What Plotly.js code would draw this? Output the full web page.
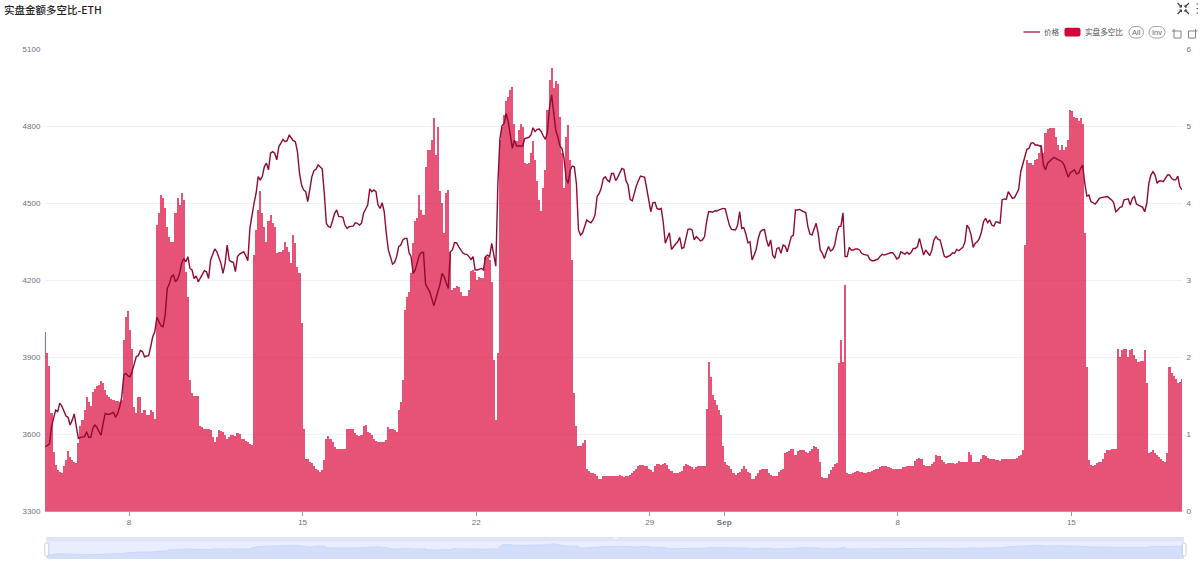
<!DOCTYPE html>
<html><head><meta charset="utf-8">
<script src="https://cdn.plot.ly/plotly-3.0.1.min.js"></script>
<style>html,body{margin:0;padding:0;background:#fff;overflow:hidden}#c{width:1200px;height:567px}</style>
</head><body><div id="c"></div>
<script>
const chartTitle = "实盘金额多空比-ETH";
const priceName = "价格";
const ratioName = "实盘多空比";
const startTime = "2025-08-04T15:00:00Z";
const stepHours = 2;
const rowLength = 92;
const tickVals = ["2025-08-08","2025-08-15","2025-08-22","2025-08-29","2025-09-01","2025-09-08","2025-09-15"];
const tickText = ["8","15","22","29","<b>Sep</b>","8","15"];
const priceTicks = [3300,3600,3900,4200,4500,4800,5100];
const ratioTicks = [0,1,2,3,4,5,6];
const priceRows = [
[3551,3557,3561,3629,3664,3693,3687,3720,3709,3687,3670,3665,3635,3654,3678,3629,3583,3587,3588,3590,3609,3587,3587,3622,3635,3626,3609,3596,3642,3680,3677,3677,3680,3684,3665,3680,3706,3745,3830,3836,3826,3823,3843,3875,3901,3905,3925,3921,3901,3904,3905,3940,3979,3999,4055,4038,4022,4018,4064,4167,4184,4213,4220,4193,4203,4226,4265,4284,4271,4291,4245,4239,4206,4216,4193,4207,4223,4236,4232,4206,4278,4304,4321,4310,4284,4265,4226,4265,4336,4278,4271,4269],
[4233,4291,4301,4307,4310,4295,4275,4401,4460,4499,4538,4603,4590,4603,4642,4655,4629,4694,4700,4694,4668,4720,4733,4748,4739,4743,4765,4752,4743,4739,4700,4616,4570,4551,4544,4505,4551,4603,4626,4631,4648,4642,4633,4538,4421,4408,4405,4431,4460,4473,4447,4447,4444,4414,4401,4408,4408,4410,4423,4421,4414,4421,4460,4479,4492,4555,4544,4551,4544,4492,4479,4501,4466,4382,4317,4291,4262,4268,4291,4330,4336,4356,4362,4362,4307,4291,4226,4239,4271,4297,4307,4307],
[4184,4167,4154,4128,4099,4128,4154,4184,4226,4213,4189,4167,4310,4317,4345,4345,4330,4317,4306,4301,4300,4291,4280,4291,4239,4239,4241,4245,4239,4291,4297,4291,4343,4297,4254,4576,4752,4801,4810,4849,4817,4765,4713,4745,4722,4722,4722,4722,4751,4754,4756,4765,4793,4778,4787,4788,4778,4761,4748,4778,4875,4921,4862,4784,4758,4722,4713,4674,4596,4576,4628,4644,4641,4576,4395,4375,4384,4414,4434,4427,4423,4434,4453,4525,4537,4557,4596,4602,4589,4583,4615,4615],
[4587,4600,4616,4635,4631,4587,4570,4514,4508,4540,4566,4587,4605,4603,4600,4557,4505,4466,4501,4503,4479,4475,4479,4427,4343,4365,4384,4319,4332,4340,4349,4366,4323,4327,4362,4397,4399,4395,4356,4369,4362,4352,4356,4369,4427,4466,4466,4464,4470,4469,4473,4477,4479,4477,4449,4414,4397,4395,4395,4414,4466,4401,4404,4379,4345,4349,4278,4297,4319,4362,4388,4395,4397,4356,4330,4356,4297,4284,4323,4326,4304,4336,4332,4310,4336,4369,4375,4473,4473,4475,4470,4466],
[4462,4408,4379,4375,4401,4421,4382,4317,4304,4284,4310,4330,4313,4319,4336,4382,4408,4410,4462,4291,4291,4327,4317,4317,4321,4321,4317,4304,4300,4297,4296,4280,4275,4275,4280,4282,4293,4300,4297,4301,4304,4306,4306,4297,4282,4287,4310,4304,4301,4308,4300,4308,4323,4323,4330,4362,4330,4297,4317,4304,4295,4317,4356,4369,4358,4356,4319,4293,4288,4291,4297,4306,4304,4319,4314,4321,4327,4349,4414,4401,4375,4327,4343,4349,4362,4388,4427,4440,4423,4434,4414,4410],
[4427,4425,4421,4512,4516,4514,4544,4531,4518,4521,4538,4553,4622,4655,4687,4709,4713,4733,4735,4726,4726,4723,4720,4648,4629,4655,4661,4670,4678,4674,4668,4666,4661,4648,4622,4600,4618,4625,4629,4613,4616,4635,4648,4577,4527,4531,4505,4501,4496,4505,4518,4521,4522,4522,4525,4518,4512,4501,4466,4473,4483,4486,4512,4514,4516,4492,4518,4525,4496,4492,4488,4483,4466,4499,4577,4609,4622,4609,4577,4586,4586,4583,4596,4609,4609,4596,4590,4590,4605,4564,4551]];
const ratioRows = [
[2.32,2.05,1.88,1.27,0.77,0.60,0.53,0.51,0.50,0.58,0.66,0.78,0.70,0.66,0.63,0.62,0.88,1.10,1.18,1.31,1.48,1.41,1.36,1.55,1.59,1.62,1.64,1.69,1.66,1.57,1.51,1.48,1.46,1.44,1.43,1.43,1.42,1.44,2.22,2.52,2.60,2.35,2.11,1.35,1.27,1.48,1.48,1.27,1.31,1.25,1.25,1.31,1.29,1.20,3.71,3.87,4.10,4.06,3.93,3.69,3.56,3.50,3.50,3.87,4.06,3.97,4.13,4.04,3.11,2.78,1.70,1.53,1.49,1.49,1.49,1.10,1.09,1.07,1.07,1.07,1.05,0.96,0.90,0.96,1.05,1.04,1.03,0.99,0.94,0.96,0.99,0.99],
[0.97,1.01,1.00,0.94,0.93,0.91,0.89,0.87,0.86,3.32,3.65,3.91,4.15,3.87,3.69,3.50,3.76,3.84,3.74,3.69,3.35,3.36,3.37,3.39,3.50,3.43,3.37,3.22,3.58,3.48,3.17,3.09,2.44,1.07,0.68,0.67,0.64,0.62,0.58,0.55,0.53,0.51,0.53,0.66,0.94,0.97,0.94,0.90,0.83,0.81,0.81,0.81,0.81,0.81,1.07,1.07,1.07,1.07,1.01,0.99,0.97,0.99,1.10,1.12,1.03,1.01,0.99,0.94,0.91,0.90,0.89,0.89,0.90,0.92,1.09,1.07,1.06,1.05,1.03,1.31,1.42,1.70,2.61,2.78,2.85,3.09,3.48,3.76,3.80,4.10,3.91,3.84],
[4.47,4.69,4.69,4.82,5.10,4.62,4.99,4.15,4.00,3.61,4.13,4.17,3.37,2.87,2.89,2.92,2.91,2.85,2.79,2.79,2.79,2.87,3.12,3.13,3.11,3.00,3.04,3.03,3.02,3.30,3.30,3.26,2.97,1.96,1.18,2.05,4.82,4.99,5.14,5.32,5.38,5.47,5.51,5.03,4.80,4.95,5.03,4.99,4.52,4.51,4.52,4.65,4.80,4.56,4.28,4.04,3.89,4.19,4.43,5.21,5.60,5.75,5.49,5.58,5.55,5.12,4.65,4.19,4.86,5.01,4.56,3.26,1.53,1.10,0.84,0.84,0.88,0.92,0.54,0.52,0.50,0.49,0.48,0.45,0.41,0.41,0.45,0.46,0.46,0.46,0.46,0.46],
[0.46,0.46,0.47,0.45,0.44,0.45,0.45,0.47,0.50,0.52,0.55,0.58,0.60,0.60,0.58,0.58,0.55,0.53,0.51,0.58,0.61,0.61,0.60,0.61,0.62,0.60,0.55,0.52,0.50,0.50,0.50,0.51,0.52,0.58,0.61,0.60,0.58,0.57,0.55,0.57,0.58,0.58,0.58,0.59,1.33,1.94,1.74,1.51,1.44,1.38,1.31,1.25,0.84,0.63,0.60,0.58,0.55,0.49,0.47,0.49,0.51,0.55,0.58,0.55,0.51,0.49,0.42,0.41,0.45,0.49,0.53,0.54,0.55,0.55,0.49,0.47,0.45,0.45,0.45,0.51,0.53,0.55,0.75,0.77,0.78,0.81,0.80,0.73,0.78,0.79,0.79,0.79],
[0.76,0.75,0.78,0.81,0.84,0.83,0.81,0.64,0.44,0.43,0.43,0.48,0.53,0.57,0.61,0.62,1.92,2.22,1.94,2.93,0.49,0.48,0.48,0.50,0.51,0.52,0.51,0.51,0.50,0.50,0.51,0.51,0.52,0.53,0.54,0.55,0.57,0.58,0.58,0.58,0.57,0.56,0.55,0.55,0.54,0.55,0.55,0.57,0.57,0.58,0.58,0.59,0.59,0.65,0.68,0.69,0.68,0.60,0.58,0.58,0.58,0.61,0.64,0.73,0.72,0.72,0.66,0.63,0.61,0.62,0.62,0.62,0.61,0.62,0.65,0.64,0.63,0.63,0.64,0.76,0.73,0.64,0.64,0.64,0.64,0.68,0.73,0.72,0.69,0.68,0.67,0.67],
[0.66,0.66,0.65,0.67,0.68,0.68,0.68,0.68,0.68,0.68,0.69,0.71,0.73,0.79,3.45,4.56,4.52,4.52,4.49,4.56,4.57,4.65,4.75,4.65,4.91,4.96,4.97,4.98,4.97,4.86,4.75,4.69,4.75,4.69,4.73,4.82,5.21,5.19,5.12,5.10,5.06,5.10,5.03,3.61,1.87,0.66,0.60,0.58,0.60,0.62,0.63,0.64,0.68,0.75,0.79,0.79,0.80,0.80,0.81,2.11,2.00,2.09,2.10,2.11,2.00,2.09,2.11,2.03,1.98,1.94,1.95,1.95,2.09,1.66,0.75,0.77,0.79,0.75,0.73,0.70,0.67,0.65,0.64,0.75,1.87,1.79,1.75,1.71,1.66,1.68,1.72]];

const t0 = Date.parse(startTime);
const hourMs = 3600000;
// each row of readings starts at its own fixed offset on the time axis
function rowTimes(rows){
  const out = [];
  rows.forEach((row, r) => row.forEach((_, i) => out.push(new Date(t0 + (r * rowLength + i) * stepHours * hourMs).toISOString().slice(0, 19))));
  return out;
}
const priceTimes = rowTimes(priceRows), ratioTimes = rowTimes(ratioRows);
const price = priceRows.flat(), ratio = ratioRows.flat();
const rangeStart = "2025-08-04T14:42:00", rangeEnd = "2025-09-19T11:05:00";

// layout geometry in page pixels
const W = 1200, H = 567, mL = 45, mR = 14, mT = 49, mB = 8;
const pw = W - mL - mR, ph = H - mT - mB;
const px = x => (x - mL) / pw, py = y => 1 - (y - mT) / ph;
const axisFont = {family: '"Liberation Sans","Noto Sans CJK SC"', size: 8, color: "#6e7079"};
const cjk = '"Noto Sans CJK SC","Liberation Sans"';

const traces = [
 {type:"bar", name:ratioName, x:ratioTimes, y:ratio, xaxis:"x", yaxis:"y", width:stepHours*hourMs,
  opacity:0.67, marker:{color:"#dc0035", line:{width:0}}, hoverinfo:"skip"},
 {type:"scatter", mode:"lines", name:priceName, x:priceTimes, y:price, xaxis:"x", yaxis:"y2",
  line:{color:"#8e0b33", width:1.4}, hoverinfo:"skip"},
 {type:"scatter", mode:"lines", name:priceName+" (slider)", x:priceTimes, y:price, xaxis:"x2", yaxis:"y3", fill:"tozeroy",
  fillcolor:"#d2defa", line:{color:"#c3d2f6", width:0.7}, hoverinfo:"skip", showlegend:false}
];

function pill(x0,y0,x1,y1,line,fill,r){
  const k=0.55*r, P=(a,b)=>px(a)+","+py(b);
  return {type:"path", xref:"paper", yref:"paper", layer:"above",
   path:`M${P(x0+r,y0)} L${P(x1-r,y0)} C${P(x1-r+k,y0)} ${P(x1,y0+r-k)} ${P(x1,y0+r)} L${P(x1,y1-r)} C${P(x1,y1-r+k)} ${P(x1-r+k,y1)} ${P(x1-r,y1)} L${P(x0+r,y1)} C${P(x0+r-k,y1)} ${P(x0,y1-r+k)} ${P(x0,y1-r)} L${P(x0,y0+r)} C${P(x0,y0+r-k)} ${P(x0+r-k,y0)} ${P(x0+r,y0)} Z`,
   line:line?{color:line,width:0.8}:{width:0}, fillcolor:fill||"rgba(0,0,0,0)"};
}
function seg(x0,y0,x1,y1,c,w){
  return {type:"line", xref:"paper", yref:"paper", x0:px(x0), y0:py(y0), x1:px(x1), y1:py(y1), line:{color:c,width:w||1}, layer:"above"};
}
function box(x0,y0,x1,y1,fill,layer){
  return {type:"rect", xref:"paper", yref:"paper", x0:px(x0), y0:py(y0), x1:px(x1), y1:py(y1), fillcolor:fill, line:{width:0}, layer:layer||"below"};
}
const shapes = [
  box(46.5,537,1184,559,"#e8eefd"),
  box(46.5,537,1184,541,"#dfe5f4"),
  seg(1023.5,32,1040,32,"#a8163f",1.3),
  pill(1064.5,27.8,1080.5,36.5,null,"#d6003f",2),
  pill(1129,26.5,1143.5,38,"#8a8a8a",null,5.7),
  pill(1149,26.5,1165,38,"#8a8a8a",null,5.7),
  pill(44.8,543,48.8,556,"#b9c3d8","#ffffff",1.5),
  pill(1182.3,543,1186,556,"#b9c3d8","#ffffff",1.5),
  box(613,537.5,618,539,"#f4f6fc","above"),
  seg(1177.5,3,1181.5,7,"#3a3a3a",1.1), seg(1181.5,7,1181.5,4.8,"#3a3a3a",1), seg(1181.5,7,1179.3,7,"#3a3a3a",1),
  seg(1189,3,1185,7,"#3a3a3a",1.1), seg(1185,7,1185,4.8,"#3a3a3a",1), seg(1185,7,1187.2,7,"#3a3a3a",1),
  seg(1177.5,14,1181.5,10,"#3a3a3a",1.1), seg(1181.5,10,1181.5,12.2,"#3a3a3a",1), seg(1181.5,10,1179.3,10,"#3a3a3a",1),
  seg(1189,14,1185,10,"#3a3a3a",1.1), seg(1185,10,1185,12.2,"#3a3a3a",1), seg(1185,10,1187.2,10,"#3a3a3a",1),
  seg(1196.5,4,1198,4,"#555",1.2), seg(1196.5,8.5,1198,8.5,"#555",1.2), seg(1196.5,13,1198,13,"#555",1.2),
  seg(1174,29,1174,38,"#777",0.9), seg(1172,31,1181,31,"#777",0.9), seg(1181,31,1181,38,"#777",0.9), seg(1174,38,1181,38,"#777",0.9),
  seg(1195.5,29,1195.5,38,"#777",0.9), seg(1188.5,31,1197.5,31,"#777",0.9), seg(1188.5,31,1188.5,38,"#777",0.9), seg(1188.5,38,1195.5,38,"#777",0.9)
];
function label(text,x,y,anchor,font){
  return {text:text, xref:"paper", yref:"paper", x:px(x), y:py(y), xanchor:anchor, yanchor:"middle", showarrow:false, font:font, align:"left"};
}
const legendFont = {family:cjk, size:7.6, color:"#555"};
const annotations = [
  label(chartTitle,1.5,9,"left",{family:cjk,size:10.5,color:"#222",weight:500}),
  label(priceName,1041.5,32,"left",legendFont),
  label(ratioName,1082.5,32,"left",legendFont),
  label("All",1136.2,32.3,"center",{family:'"Liberation Sans"',size:7.5,color:"#666"}),
  label("Inv",1157,32.3,"center",{family:'"Liberation Sans"',size:7.5,color:"#666"})
];

const layout = {
  width:W, height:H, margin:{l:mL,r:mR,t:mT,b:mB,pad:0}, showlegend:false,
  paper_bgcolor:"#fff", plot_bgcolor:"rgba(0,0,0,0)", bargap:0, barmode:"overlay",
  xaxis:{type:"date", domain:[0,1137/pw], range:[rangeStart,rangeEnd], anchor:"y", tickmode:"array", tickvals:tickVals, ticktext:tickText,
    ticks:"outside", ticklen:4, tickwidth:0.7, tickcolor:"#6e7079", showline:true, linecolor:"#8a8c96", linewidth:0.8, showgrid:false, zeroline:false, tickfont:axisFont, tickangle:0},
  yaxis:{domain:[1-(511-mT)/ph,1], range:[0,6], side:"right", anchor:"x", tickmode:"array", tickvals:ratioTicks, ticks:"outside", ticklen:2, tickcolor:"rgba(0,0,0,0)",
    showgrid:true, gridcolor:"#e9edf7", gridwidth:0.8, zeroline:false, showline:false, tickfont:axisFont},
  yaxis2:{overlaying:"y", range:[3300,5100], side:"left", anchor:"x", tickmode:"array", tickvals:priceTicks, ticks:"outside", ticklen:2, tickcolor:"rgba(0,0,0,0)",
    showgrid:false, zeroline:false, showline:false, tickfont:axisFont},
  xaxis2:{type:"date", domain:[1.5/pw,1139/pw], range:[rangeStart,rangeEnd], anchor:"y3", visible:false},
  yaxis3:{domain:[0,22/ph], range:[3067,5729], anchor:"x2", visible:false},
  shapes, annotations
};
Plotly.newPlot("c", traces, layout, {displayModeBar:false, staticPlot:true});
</script></body></html>
